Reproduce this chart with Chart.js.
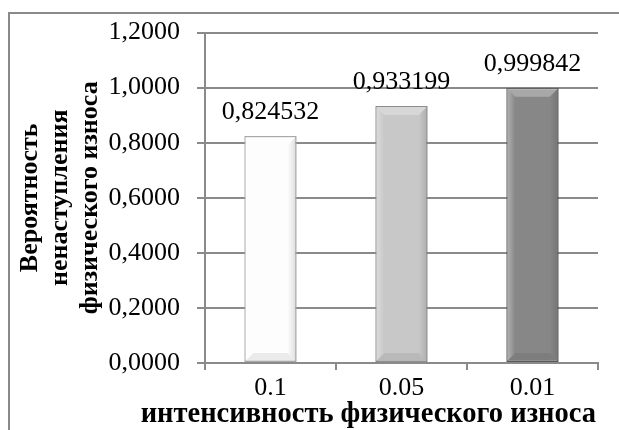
<!DOCTYPE html>
<html>
<head>
<meta charset="utf-8">
<script src="https://cdn.jsdelivr.net/npm/chart.js@4/dist/chart.umd.min.js"></script>
<style>
  html, body { margin: 0; padding: 0; background: #ffffff; }
  #wrap { width: 619px; height: 430px; position: relative; }
</style>
</head>
<body>
<div id="wrap"><canvas id="c" width="619" height="430"></canvas></div>
<script>
// Intensity of physical wear (x categories)
const categories = ['0.1', '0.05', '0.01'];
// Probability that physical wear does not occur
const probabilities = [0.824532, 0.933199, 0.999842];
// Value axis ticks
const yTickValues = [0, 0.2, 0.4, 0.6, 0.8, 1.0, 1.2];
const yTickLabels = ['0,0000', '0,2000', '0,4000', '0,6000', '0,8000', '1,0000', '1,2000'];

const yTitleLines = ['Вероятность', 'ненаступления', 'физического износа'];
const xTitle = 'интенсивность физического износа';

const barFills = ['#fdfdfd', '#c8c8c8', '#878787'];
const barEdges = ['#a8a8a8', '#8e8e8e', '#595959'];

const SERIF = '"Liberation Serif", "Times New Roman", Times, serif';
const GRID = '#8a8a8a';

// Outer frame of the chart object
const framePlugin = {
  id: 'frame',
  beforeDraw(chart) {
    const ctx = chart.ctx;
    ctx.save();
    ctx.strokeStyle = '#8a8a8a';
    ctx.lineWidth = 2;
    ctx.strokeRect(9, 13, chart.width + 20, chart.height + 20);
    ctx.restore();
  }
};

// Category axis title, right-aligned to the end of the axis and allowed
// to run wider than the plot area
const xTitlePlugin = {
  id: 'xTitle',
  afterDraw(chart) {
    const ctx = chart.ctx;
    const xs = chart.scales.x;
    ctx.save();
    ctx.font = 'bold 28.5px ' + SERIF;
    ctx.fillStyle = '#000000';
    ctx.textAlign = 'right';
    ctx.textBaseline = 'middle';
    ctx.fillText(xTitle, xs.right - 2, xs.bottom - 15);
    ctx.restore();
  }
};

// Soft bevel shading on each bar
const bevelPlugin = {
  id: 'bevel',
  afterDatasetsDraw(chart) {
    const ctx = chart.ctx;
    const meta = chart.getDatasetMeta(0);
    meta.data.forEach((bar) => {
      const p = bar.getProps(['x', 'y', 'base', 'width'], true);
      const l = p.x - p.width / 2 + 1, r = p.x + p.width / 2 - 1;
      const t = p.y + 1, b = p.base - 1;
      const d = 8;
      ctx.save();
      // top face
      ctx.beginPath();
      ctx.moveTo(l, t); ctx.lineTo(r, t); ctx.lineTo(r - d, t + d); ctx.lineTo(l + d, t + d); ctx.closePath();
      ctx.fillStyle = 'rgba(255,255,255,0.28)';
      ctx.fill();
      // bottom face
      ctx.beginPath();
      ctx.moveTo(l, b); ctx.lineTo(r, b); ctx.lineTo(r - d, b - d); ctx.lineTo(l + d, b - d); ctx.closePath();
      ctx.fillStyle = 'rgba(0,0,0,0.07)';
      ctx.fill();
      // left face
      let g = ctx.createLinearGradient(l, 0, l + d, 0);
      g.addColorStop(0, 'rgba(255,255,255,0.35)');
      g.addColorStop(1, 'rgba(255,255,255,0)');
      ctx.beginPath();
      ctx.moveTo(l, t); ctx.lineTo(l + d, t + d); ctx.lineTo(l + d, b - d); ctx.lineTo(l, b); ctx.closePath();
      ctx.fillStyle = g;
      ctx.fill();
      // right face
      g = ctx.createLinearGradient(r - d, 0, r, 0);
      g.addColorStop(0, 'rgba(0,0,0,0)');
      g.addColorStop(1, 'rgba(0,0,0,0.12)');
      ctx.beginPath();
      ctx.moveTo(r, t); ctx.lineTo(r - d, t + d); ctx.lineTo(r - d, b - d); ctx.lineTo(r, b); ctx.closePath();
      ctx.fillStyle = g;
      ctx.fill();
      ctx.restore();
    });
  }
};

// Value labels above the bars
const valueLabelPlugin = {
  id: 'valueLabels',
  afterDatasetsDraw(chart) {
    const ctx = chart.ctx;
    const ds = chart.data.datasets[0];
    const meta = chart.getDatasetMeta(0);
    ctx.save();
    ctx.font = '26px ' + SERIF;
    ctx.fillStyle = '#000000';
    ctx.textAlign = 'center';
    ctx.textBaseline = 'alphabetic';
    meta.data.forEach((bar, i) => {
      const txt = ds.data[i].toFixed(6).replace('.', ',');
      ctx.fillText(txt, bar.x, bar.y - 17);
    });
    ctx.restore();
  }
};

new Chart(document.getElementById('c'), {
  type: 'bar',
  data: {
    labels: categories,
    datasets: [{
      data: probabilities,
      backgroundColor: barFills,
      borderColor: barEdges,
      borderWidth: 1.5,
      borderSkipped: false,
      barPercentage: 0.4,
      categoryPercentage: 1.0
    }]
  },
  options: {
    responsive: false,
    animation: false,
    devicePixelRatio: 1,
    layout: { padding: { left: 8, top: 27, right: 21, bottom: 0 } },
    plugins: {
      legend: { display: false },
      tooltip: { enabled: false }
    },
    scales: {
      x: {
        afterFit(scale) { scale.height = 67; },
        grid: {
          drawOnChartArea: false,
          drawTicks: true,
          tickLength: 7,
          color: GRID,
          lineWidth: 2
        },
        border: { display: true, color: GRID, width: 2 },
        ticks: {
          color: '#000000',
          font: { family: SERIF, size: 26 },
          padding: 3
        },
        title: { display: false }
      },
      y: {
        min: 0,
        max: 1.2,
        afterFit(scale) { scale.width = 197; },
        afterBuildTicks(scale) {
          scale.ticks = yTickValues.map(v => ({ value: v }));
        },
        grid: {
          color: GRID,
          lineWidth: 2,
          tickLength: 8
        },
        border: { display: true, color: GRID, width: 2 },
        ticks: {
          color: '#000000',
          font: { family: SERIF, size: 26 },
          padding: 17,
          callback(value, index) { return yTickLabels[index]; }
        },
        title: {
          display: true,
          text: yTitleLines,
          color: '#000000',
          font: { family: SERIF, size: 26, weight: 'bold', lineHeight: 30 / 26 },
          padding: { top: 7, bottom: 0 }
        }
      }
    }
  },
  plugins: [framePlugin, bevelPlugin, valueLabelPlugin, xTitlePlugin]
});
</script>
</body>
</html>
